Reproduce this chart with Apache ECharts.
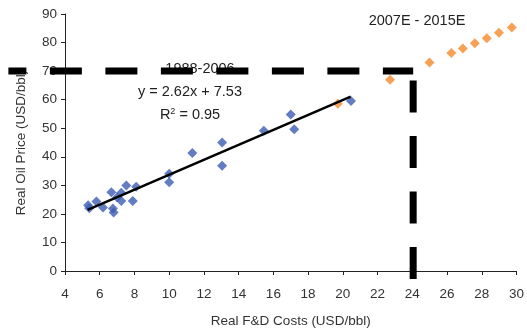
<!DOCTYPE html>
<html>
<head>
<meta charset="utf-8">
<script src="https://cdn.jsdelivr.net/npm/echarts@6/dist/echarts.min.js"></script>
<style>
  html, body { margin: 0; padding: 0; background: #fff; }
  #chart { width: 527px; height: 333px; }
</style>
</head>
<body>
<div id="chart"></div>
<script>
// 1988-2006 历史点（实际 F&D 成本 vs 实际油价）
const histCost = [5.33, 5.4, 5.81, 6.19, 6.67, 6.76, 6.8, 7.0, 7.24, 7.24, 7.53, 7.9, 8.1, 10.0, 10.0, 11.33, 13.05, 13.05, 15.45, 17.0, 17.2, 20.47];
const histPrice = [23.0, 22.0, 24.3, 22.2, 27.6, 21.9, 20.5, 25.8, 27.4, 24.5, 29.9, 24.5, 29.5, 34.1, 31.1, 41.3, 45.0, 36.9, 49.1, 54.8, 49.6, 59.5];

// 2007E-2015E 预测点
const fcstCost = [19.71, 22.72, 24.99, 26.25, 26.91, 27.6, 28.29, 28.99, 29.73];
const fcstPrice = [58.6, 67.0, 73.0, 76.3, 77.9, 79.8, 81.5, 83.4, 85.3];

// 趋势线端点（y = 2.62x + 7.53）
const trendCost = [5.3, 20.45];
const trendPrice = [21.4, 61.1];

// 参考虚线：从图左侧延伸到 24 USD/bbl，再向下到横轴以下
const refCostX = [0.74, 24.05];
const refPriceY = [70, -3];

const xTicks = { min: 4, max: 30, interval: 2 };
const yTicks = { min: 0, max: 90, interval: 10 };

const FONT = "Liberation Sans";
const TEXT = "#333333";

const zip = (a, b) => a.map((v, i) => [v, b[i]]);

const chart = echarts.init(document.getElementById("chart"));
chart.setOption({
  animation: false,
  grid: { left: 65, right: 7, top: 14, bottom: 61 },
  textStyle: { fontFamily: FONT },
  xAxis: {
    type: "value",
    min: xTicks.min,
    max: xTicks.max,
    interval: xTicks.interval,
    name: "Real F&D Costs (USD/bbl)",
    nameLocation: "middle",
    nameGap: 43,
    nameTextStyle: { color: TEXT, fontSize: 13.5, fontFamily: FONT },
    axisLine: { lineStyle: { color: "#222", width: 1 } },
    axisTick: { show: true, length: 4, lineStyle: { color: "#222" } },
    axisLabel: { color: TEXT, fontSize: 13.5, margin: 16, fontFamily: FONT },
    splitLine: { show: false },
  },
  yAxis: {
    type: "value",
    min: yTicks.min,
    max: yTicks.max,
    interval: yTicks.interval,
    name: "Real Oil Price (USD/bbl)",
    nameLocation: "middle",
    nameGap: 37,
    nameTextStyle: { color: TEXT, fontSize: 13.5, fontFamily: FONT },
    axisLine: { show: true, lineStyle: { color: "#222", width: 1 } },
    axisTick: { show: true, length: 4, lineStyle: { color: "#222" } },
    axisLabel: { color: TEXT, fontSize: 13.5, margin: 8, fontFamily: FONT },
    splitLine: { show: false },
  },
  series: [
    {
      type: "scatter",
      data: zip(histCost, histPrice),
      symbol: "diamond",
      symbolSize: 10,
      itemStyle: { color: "#3c5cb4" },
      z: 2,
    },
    {
      type: "scatter",
      data: zip(fcstCost, fcstPrice),
      symbol: "diamond",
      symbolSize: 10,
      itemStyle: { color: "#f58a2c" },
      z: 2,
    },
    {
      type: "line",
      data: zip(trendCost, trendPrice),
      symbol: "none",
      lineStyle: { color: "#000", width: 2.5 },
      z: 3,
    },
  ],
});

// 虚线超出绘图区，用坐标系换算成像素后以 graphic 绘制（不被裁剪）
const p0 = chart.convertToPixel({ gridIndex: 0 }, [refCostX[0], refPriceY[0]]);
const p1 = chart.convertToPixel({ gridIndex: 0 }, [refCostX[1], refPriceY[0]]);
const p2 = chart.convertToPixel({ gridIndex: 0 }, [refCostX[1], refPriceY[1]]);
const dashStyle = (offset) => ({
  stroke: "#000",
  lineWidth: 7,
  lineDash: [32, 23.5],
  lineDashOffset: offset,
  lineCap: "butt",
});
const annot = "14.5px " + FONT;

chart.setOption({
  graphic: [
    {
      type: "text",
      x: 200, y: 69,
      style: { text: "1988-2006", fill: "#222", font: annot, textAlign: "center", textVerticalAlign: "middle" },
      z: 50,
    },
    {
      type: "line",
      shape: { x1: p0[0], y1: p0[1], x2: p1[0], y2: p1[1] },
      style: dashStyle(14),
      z: 60,
      silent: true,
    },
    {
      type: "line",
      shape: { x1: p1[0], y1: p1[1], x2: p2[0], y2: p2[1] },
      style: dashStyle(46),
      z: 60,
      silent: true,
    },
    {
      type: "text",
      x: 190, y: 92,
      style: { text: "y = 2.62x + 7.53", fill: "#222", font: annot, textAlign: "center", textVerticalAlign: "middle" },
      z: 50,
    },
    {
      type: "text",
      x: 190, y: 115,
      style: {
        text: "R{sup|2} = 0.95",
        fill: "#222",
        font: annot,
        textAlign: "center",
        textVerticalAlign: "middle",
        rich: { sup: { fontSize: 9, verticalAlign: "top", padding: [0, 0, 6, 0], fill: "#222" } },
      },
      z: 50,
    },
    {
      type: "text",
      x: 417, y: 21,
      style: { text: "2007E - 2015E", fill: "#222", font: annot, textAlign: "center", textVerticalAlign: "middle" },
      z: 50,
    },
  ],
});
</script>
</body>
</html>
